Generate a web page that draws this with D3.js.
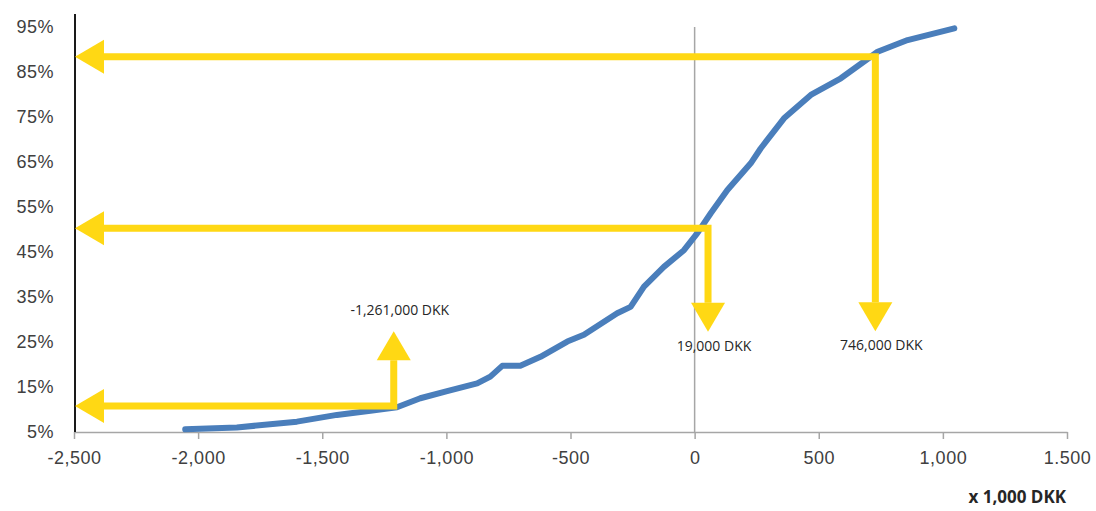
<!DOCTYPE html>
<html>
<head>
<meta charset="utf-8">
<script src="https://cdn.jsdelivr.net/npm/d3@7"></script>
<style>
  body { margin: 0; background: #fff; }
  svg { display: block; font-family: "Open Sans", "Noto Sans", sans-serif; }
</style>
</head>
<body>
<div id="chart"></div>
<script>
// cumulative distribution, x in 1,000 DKK, y in %
const cdfX = [-2052, -1844, -1602, -1441, -1306, -1199, -1105, -997, -876, -823, -775, -702, -621, -513, -446, -312, -258, -204, -124, -43, 11, 65, 132, 226, 266, 360, 468, 589, 737, 858, 1046];
const cdfY = [5.6, 6.0, 7.3, 8.8, 9.7, 10.5, 12.5, 14.1, 15.8, 17.3, 19.7, 19.7, 21.7, 25.1, 26.6, 31.4, 32.8, 37.3, 41.7, 45.4, 49.2, 53.6, 58.8, 64.7, 68.0, 74.7, 79.9, 83.6, 89.5, 92.1, 94.7];

// percentile arrows
const arrowPct = [88.4, 50.3, 10.8];
const arrowVal = [728, 54, -1212];
const arrowEndPct = [27.4, 27.3, 27.4];
const arrowLabels = ["746,000 DKK", "19,000 DKK", "-1,261,000 DKK"];

const xTicks = [-2500, -2000, -1500, -1000, -500, 0, 500, 1000, 1500];
const xTickLabels = ["-2,500", "-2,000", "-1,500", "-1,000", "-500", "0", "500", "1,000", "1.500"];
const yTicks = [5, 15, 25, 35, 45, 55, 65, 75, 85, 95];

const W = 1096, H = 511;
const x = d3.scaleLinear().domain([-2500, 1500]).range([74, 1067]);
const y = d3.scaleLinear().domain([5, 95]).range([432, 27]);

const svg = d3.select("#chart").append("svg").attr("width", W).attr("height", H);

// zero line
svg.append("line")
   .attr("x1", x(0)).attr("x2", x(0))
   .attr("y1", y(95)).attr("y2", y(5))
   .attr("stroke", "#a6a6a6").attr("stroke-width", 1.5);

// x axis
const xAxis = svg.append("g")
   .attr("transform", `translate(0,${y(5)})`)
   .call(d3.axisBottom(x).tickValues(xTicks).tickSize(7).tickSizeOuter(0).tickPadding(12)
           .tickFormat((d, i) => xTickLabels[i]));
xAxis.select(".domain").attr("stroke", "#a6a6a6").attr("stroke-width", 1.5);
xAxis.selectAll(".tick line").attr("stroke", "#a6a6a6").attr("stroke-width", 1.5);
xAxis.selectAll(".tick text").attr("fill", "#404040").style("font-size", "18px").style("letter-spacing", "0.5px");

// y axis
const yAxis = svg.append("g")
   .attr("transform", "translate(75,0)")
   .call(d3.axisLeft(y).tickValues(yTicks).tickSize(0).tickPadding(21).tickFormat(d => d + "%"));
yAxis.select(".domain").remove();
yAxis.selectAll(".tick text").attr("fill", "#404040").style("font-size", "18px").style("letter-spacing", "0.5px");
svg.append("line")
   .attr("x1", 75).attr("x2", 75)
   .attr("y1", 14).attr("y2", y(5))
   .attr("stroke", "#1a1a1a").attr("stroke-width", 2);

// axis title
svg.append("text")
   .attr("x", 1066).attr("y", 503)
   .attr("text-anchor", "end")
   .style("font-size", "17px").style("font-weight", "bold")
   .attr("fill", "#262626")
   .text("x 1,000 DKK");

// curve
const cdf = cdfX.map((v, i) => ({ x: v, y: cdfY[i] }));
svg.append("path")
   .datum(cdf)
   .attr("fill", "none")
   .attr("stroke", "#4a7ebb")
   .attr("stroke-width", 6)
   .attr("stroke-linejoin", "round")
   .attr("stroke-linecap", "round")
   .attr("d", d3.line().x(d => x(d.x)).y(d => y(d.y)));

// arrows
const yellow = "#ffd814";
const headLen = 29, headHalf = 17;
arrowPct.forEach((p, i) => {
    const cx = x(arrowVal[i]), cy = y(p), ey = y(arrowEndPct[i]);
    const left = x(-2500) + 1;
    const dir = ey > cy ? 1 : -1;
    // shaft: from left head base to corner, then to vertical head base
    svg.append("path")
       .attr("d", `M${left + headLen},${cy} L${cx},${cy} L${cx},${ey - dir * headLen}`)
       .attr("fill", "none").attr("stroke", yellow).attr("stroke-width", 7)
       .attr("stroke-linejoin", "miter");
    // left head
    svg.append("path")
       .attr("d", `M${left},${cy} L${left + headLen},${cy - headHalf} L${left + headLen},${cy + headHalf} Z`)
       .attr("fill", yellow);
    // vertical head
    svg.append("path")
       .attr("d", `M${cx},${ey} L${cx - headHalf},${ey - dir * headLen} L${cx + headHalf},${ey - dir * headLen} Z`)
       .attr("fill", yellow);
    // label
    svg.append("text")
       .attr("x", cx + 6)
       .attr("y", dir > 0 ? ey + 19 : ey - 16)
       .attr("text-anchor", "middle")
       .style("font-size", "14px")
       .attr("fill", "#262626")
       .text(arrowLabels[i]);
});
</script>
</body>
</html>
